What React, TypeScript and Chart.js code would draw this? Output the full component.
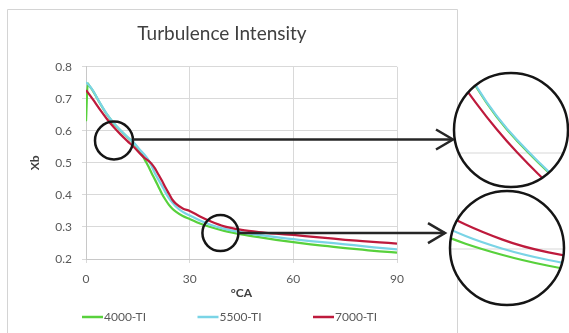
import React, { useEffect, useRef } from "react";
import { Chart, registerables } from "chart.js";

Chart.register(...registerables);

// Burned fraction (Xb) against crank angle for three turbulence intensities
const crankAngles = [0, 1, 2, 4, 6, 8, 10, 12, 14, 16, 17, 18, 19, 20, 21, 22, 23, 24, 25, 26, 28, 30, 33, 36, 40, 45, 50, 55, 60, 65, 70, 75, 80, 85, 90];
const crankAngles4000 = [0, 0.5, 1, 2, 4, 6, 8, 10, 12, 14, 16, 17, 18, 19, 20, 21, 22, 23, 24, 25, 26, 28, 30, 33, 36, 40, 45, 50, 55, 60, 65, 70, 75, 80, 85, 90];

const xb4000 = [0.630, 0.748, 0.740, 0.725, 0.687, 0.652, 0.624, 0.601, 0.580, 0.560, 0.530, 0.510, 0.490, 0.468, 0.447, 0.425, 0.403, 0.385, 0.369, 0.357, 0.348, 0.334, 0.325, 0.311, 0.300, 0.288, 0.277, 0.268, 0.260, 0.253, 0.246, 0.240, 0.234, 0.229, 0.224, 0.220];
const xb5500 = [0.752, 0.741, 0.726, 0.688, 0.653, 0.625, 0.602, 0.581, 0.561, 0.536, 0.525, 0.510, 0.490, 0.466, 0.447, 0.428, 0.408, 0.390, 0.376, 0.364, 0.347, 0.336, 0.320, 0.307, 0.294, 0.283, 0.275, 0.268, 0.262, 0.256, 0.251, 0.246, 0.240, 0.235, 0.230];
const xb7000 = [0.727, 0.713, 0.698, 0.667, 0.638, 0.612, 0.589, 0.568, 0.548, 0.525, 0.515, 0.507, 0.497, 0.482, 0.463, 0.444, 0.423, 0.404, 0.385, 0.373, 0.358, 0.350, 0.333, 0.318, 0.302, 0.291, 0.284, 0.279, 0.275, 0.270, 0.265, 0.260, 0.256, 0.252, 0.248];

const seriesNames = ["4000-TI", "5500-TI", "7000-TI"];
const seriesColors = ["#58d13c", "#7ad4e6", "#be1a3c"];

const xTicks = [0, 30, 60, 90];
const yTicks = [0.2, 0.3, 0.4, 0.5, 0.6, 0.7, 0.8];

const chartTitle = "Turbulence Intensity";
const xTitle = "°CA";
const yTitle = "Xb";

const FONT = "Lato, 'Open Sans', sans-serif";

// Circled spots on the plot (data coords) and the magnified views they point to
const callouts = [
  { spot: { x: 8.1, y: 0.57 }, radius: 19, zoomAt: { x: 8.4, y: 0.624 }, lens: { cx: 511, cy: 130, r: 57 }, tipX: 453, arrowDy: -1 },
  { spot: { x: 38.9, y: 0.281 }, radius: 18, zoomAt: { x: 38.5, y: 0.301 }, lens: { cx: 507, cy: 248, r: 57 }, tipX: 445, arrowDy: 0 },
];
const LENS_MAG = 3;

const toPoints = (xs: number[], ys: number[]) => xs.map((x, i) => ({ x, y: ys[i] }));

function smoothPath(ctx: CanvasRenderingContext2D, pts: number[][]) {
  if (pts.length < 2) return;
  ctx.beginPath();
  ctx.moveTo(pts[0][0], pts[0][1]);
  for (let i = 1; i < pts.length - 1; i++) {
    const mx = (pts[i][0] + pts[i + 1][0]) / 2;
    const my = (pts[i][1] + pts[i + 1][1]) / 2;
    ctx.quadraticCurveTo(pts[i][0], pts[i][1], mx, my);
  }
  const last = pts[pts.length - 1];
  ctx.lineTo(last[0], last[1]);
  ctx.stroke();
}

const decorations = {
  id: "decorations",
  beforeDraw(chart: any) {
    const ctx = chart.ctx as CanvasRenderingContext2D;
    ctx.save();
    ctx.fillStyle = "#ffffff";
    ctx.fillRect(0, 0, chart.width, chart.height);
    // chart frame
    ctx.strokeStyle = "#d4d4d4";
    ctx.lineWidth = 1;
    ctx.beginPath();
    ctx.moveTo(7.5, chart.height + 5);
    ctx.lineTo(7.5, 9.5);
    ctx.lineTo(457.5, 9.5);
    ctx.lineTo(457.5, chart.height + 5);
    ctx.stroke();
    ctx.restore();
  },
  afterDraw(chart: any) {
    const ctx = chart.ctx as CanvasRenderingContext2D;
    const xs = chart.scales.x;
    const ys = chart.scales.y;
    const area = chart.chartArea;
    ctx.save();

    // legend
    ctx.font = `12px ${FONT}`;
    ctx.textBaseline = "middle";
    ctx.textAlign = "left";
    const legendY = 317;
    seriesNames.forEach((name, i) => {
      const x0 = area.left - 4 + i * 115.5;
      ctx.strokeStyle = seriesColors[i];
      ctx.lineWidth = 2.5;
      ctx.beginPath();
      ctx.moveTo(x0, legendY);
      ctx.lineTo(x0 + 21, legendY);
      ctx.stroke();
      ctx.fillStyle = "#595959";
      ctx.fillText(name, x0 + 22, legendY);
    });

    const pxPerDeg = xs.getPixelForValue(1) - xs.getPixelForValue(0);
    const pxPerUnit = ys.getPixelForValue(0) - ys.getPixelForValue(1);
    // draw order: 4000 first, 7000 on top
    const drawOrder = [2, 1, 0];

    callouts.forEach((c) => {
      const px = xs.getPixelForValue(c.spot.x);
      const py = ys.getPixelForValue(c.spot.y);
      const ay = py + c.arrowDy;

      // circle on the plot
      ctx.strokeStyle = "#151515";
      ctx.lineWidth = 2.5;
      ctx.beginPath();
      ctx.arc(px, py, c.radius, 0, Math.PI * 2);
      ctx.stroke();

      // arrow
      ctx.strokeStyle = "#262626";
      ctx.lineWidth = 2.5;
      ctx.beginPath();
      ctx.moveTo(px + c.radius, ay);
      ctx.lineTo(c.tipX, ay);
      ctx.stroke();
      ctx.beginPath();
      ctx.moveTo(c.tipX - 17, ay - 10);
      ctx.lineTo(c.tipX, ay);
      ctx.lineTo(c.tipX - 17, ay + 10);
      ctx.stroke();

      // magnified view
      const { cx, cy, r } = c.lens;
      const map = (x: number, y: number) => [
        cx + (x - c.zoomAt.x) * pxPerDeg * LENS_MAG,
        cy - (y - c.zoomAt.y) * pxPerUnit * LENS_MAG,
      ];
      ctx.save();
      ctx.beginPath();
      ctx.arc(cx, cy, r, 0, Math.PI * 2);
      ctx.fillStyle = "#ffffff";
      ctx.fill();
      ctx.clip();
      ctx.strokeStyle = "#e4e4e4";
      ctx.lineWidth = 1.5;
      yTicks.forEach((t) => {
        const gy = map(0, t)[1];
        if (gy > cy - r && gy < cy + r) {
          ctx.beginPath();
          ctx.moveTo(cx - r, gy);
          ctx.lineTo(cx + r, gy);
          ctx.stroke();
        }
      });
      drawOrder.forEach((di) => {
        const ds = chart.data.datasets[di];
        const pts = (ds.data as { x: number; y: number }[]).map((p) => map(p.x, p.y));
        ctx.strokeStyle = ds.borderColor;
        ctx.lineWidth = 2.2;
        smoothPath(ctx, pts);
      });
      ctx.restore();
      ctx.strokeStyle = "#151515";
      ctx.lineWidth = 2.5;
      ctx.beginPath();
      ctx.arc(cx, cy, r, 0, Math.PI * 2);
      ctx.stroke();
    });

    ctx.restore();
  },
};

export default function App() {
  const canvasRef = useRef<HTMLCanvasElement | null>(null);

  useEffect(() => {
    const canvas = canvasRef.current;
    if (!canvas) return;
    Chart.defaults.font.family = FONT;

    const chart = new Chart(canvas, {
      type: "line",
      data: {
        datasets: [
          { label: seriesNames[2], data: toPoints(crankAngles, xb7000), borderColor: seriesColors[2], order: 0 },
          { label: seriesNames[1], data: toPoints(crankAngles, xb5500), borderColor: seriesColors[1], order: 1 },
          { label: seriesNames[0], data: toPoints(crankAngles4000, xb4000), borderColor: seriesColors[0], order: 2 },
        ].map((d) => ({
          ...d,
          borderWidth: 2.25,
          pointRadius: 0,
          fill: false,
          cubicInterpolationMode: "monotone" as const,
        })),
      },
      options: {
        responsive: false,
        animation: false,
        devicePixelRatio: 1,
        layout: { padding: { left: 7, right: 132, top: 9, bottom: 31 } },
        plugins: {
          legend: { display: false },
          tooltip: { enabled: false },
          title: {
            display: true,
            text: chartTitle,
            color: "#404040",
            font: { family: FONT, size: 19, weight: "normal" },
            padding: { top: 13, bottom: 22 },
          },
        },
        scales: {
          x: {
            type: "linear",
            min: 0,
            max: 90,
            afterBuildTicks: (s: any) => {
              s.ticks = xTicks.map((v) => ({ value: v }));
            },
            afterFit: (s: any) => {
              s.height = 43;
            },
            grid: { color: "#d9d9d9", tickLength: 4 },
            border: { color: "#c8c8c8" },
            ticks: { color: "#595959", font: { size: 12 }, padding: 9, maxRotation: 0 },
            title: {
              display: true,
              text: xTitle,
              color: "#404040",
              font: { size: 12, weight: "bold" },
              padding: { top: 0, bottom: 2 },
            },
          },
          y: {
            type: "linear",
            min: 0.2,
            max: 0.8,
            afterBuildTicks: (s: any) => {
              s.ticks = yTicks.map((v) => ({ value: v }));
            },
            afterFit: (s: any) => {
              s.width = 79;
            },
            grid: { color: "#d9d9d9", tickLength: 4 },
            border: { color: "#c8c8c8" },
            ticks: { color: "#595959", font: { size: 12 }, padding: 10, callback: (v: any) => Number(v).toFixed(1) },
            title: {
              display: true,
              text: yTitle,
              color: "#404040",
              font: { size: 12, weight: "bold" },
              padding: { top: 21, bottom: 0 },
            },
          },
          yRight: {
            type: "linear",
            position: "right",
            display: true,
            grid: { display: false },
            border: { display: false },
            ticks: { display: false },
            afterFit: (s: any) => {
              s.width = 40;
            },
          },
        },
      },
      plugins: [decorations],
    } as any);

    return () => chart.destroy();
  }, []);

  return (
    <div style={{ position: "fixed", left: 0, top: 0, width: 569, height: 333, background: "#ffffff" }}>
      <canvas ref={canvasRef} width={569} height={333} style={{ display: "block", width: 569, height: 333 }} />
    </div>
  );
}
